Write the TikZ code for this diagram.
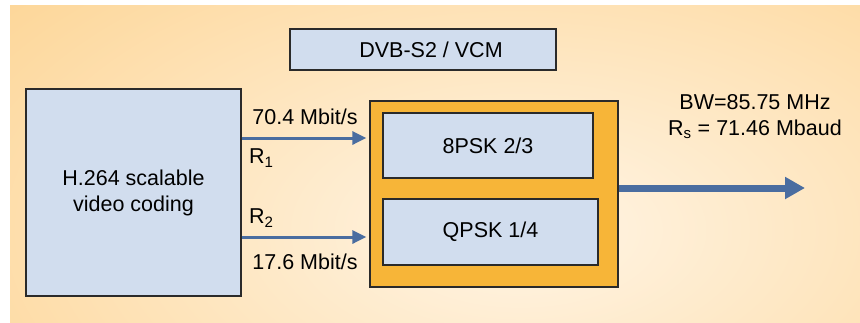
\documentclass[tikz,border=0pt]{standalone}
\usepackage{fontspec}
\setmainfont{Liberation Sans}
\usetikzlibrary{arrows.meta}
\definecolor{bgouter}{HTML}{FDD595}
\definecolor{bginner}{HTML}{FFF5E6}
\definecolor{boxblue}{HTML}{D1DDEE}
\definecolor{muxorange}{HTML}{F7B538}
\definecolor{arrowblue}{HTML}{4A6DA0}
\definecolor{edgegray}{HTML}{2A2A2A}
\begin{document}
\begin{tikzpicture}[x = 1pt, y = -1pt,
	every node/.style = {font = \fontsize{21.5}{26}\selectfont, inner sep = 0pt},
	blockbox/.style = {draw = edgegray, line width = 1.3pt, fill = boxblue, align = center},
	rate/.style = {draw = arrowblue, line width = 3pt, -{Triangle[length = 14pt, width = 13pt]}},
	carrier/.style = {draw = arrowblue, line width = 7pt, -{Triangle[length = 20pt, width = 21pt]}}]
	\useasboundingbox (0,0) rectangle (860,322);
	% background
	\fill[bgouter] (10,5) rectangle (860,322);
	\begin{scope}
		\clip (10,5) rectangle (860,322);
		\shade[inner color = bginner, outer color = bgouter] (-180,-150) rectangle (1220,610);
	\end{scope}

	\node[blockbox, minimum width = 215, minimum height = 207] (coding) at (133.5,192.5) {H.264 scalable\\video coding};
	\node[blockbox, minimum width = 266, minimum height = 41] (dvb) at (423,49.5) {\hspace{16pt}DVB-S2 / VCM};
	\node[draw = edgegray, line width = 1.3pt, fill = muxorange, minimum width = 248, minimum height = 186] (mux) at (494,194) {};
	\node[blockbox, minimum width = 210, minimum height = 65] (psk) at (488,145.5) {8PSK 2/3};
	\node[blockbox, minimum width = 215, minimum height = 66] (qpsk) at (490.5,232) {QPSK 1/4};

	\draw[rate] (coding.east |- 0,138) -- ([xshift = -3pt]mux.west |- 0,138);
	\draw[rate] (coding.east |- 0,237) -- ([xshift = -3pt]mux.west |- 0,237);
	\node (rhi) at (305,117) {70.4 Mbit/s};
	\node[anchor = west] (rone) at (249,158) {R\textsubscript{1}};
	\node[anchor = west] (rtwo) at (249,218) {R\textsubscript{2}};
	\node (rlo) at (305,262) {17.6 Mbit/s};

	\coordinate (out) at (805,188);
	\draw[carrier] (mux.east |- out) -- (out);
	\node[align = center] (bw) at (755,117) {BW=85.75 MHz\\R\textsubscript{s} = 71.46 Mbaud};
\end{tikzpicture}
\end{document}
